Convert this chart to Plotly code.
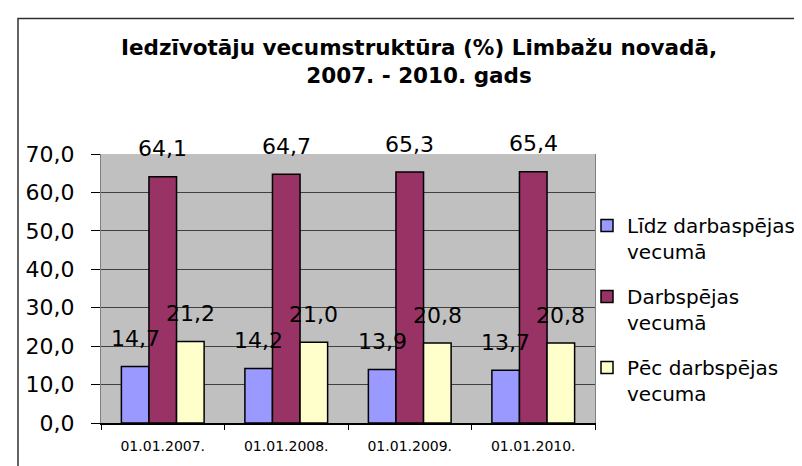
import plotly.graph_objects as go

categories = ["01.01.2007.", "01.01.2008.", "01.01.2009.", "01.01.2010."]
series_names = ["Līdz darbaspējas<br>vecumā", "Darbspējas<br>vecumā", "Pēc darbspējas<br>vecuma"]
lidz_darbaspejas = [14.7, 14.2, 13.9, 13.7]
darbspejas = [64.1, 64.7, 65.3, 65.4]
pec_darbspejas = [21.2, 21.0, 20.8, 20.8]
colors = ["#9999FF", "#993366", "#FFFFCC"]
y_ticks = [0, 10, 20, 30, 40, 50, 60, 70]

series_values = [lidz_darbaspejas, darbspejas, pec_darbspejas]
FONT = "DejaVu Sans"
BARGAP = 0.33

W, H = 802, 466
ML, MR, MT, MB = 93, 215, 146, 51
PW, PH = W - ML - MR, H - MT - MB

def fmt(v):
    return f"{v:.1f}".replace(".", ",")

fig = go.Figure()
for k, (name, vals, col) in enumerate(zip(series_names, series_values, colors)):
    fig.add_trace(go.Bar(
        x=categories, y=vals, name=name,
        marker=dict(color=col, line=dict(color="black", width=1.5)),
        legendgroup=f"g{k}",
    ))

annotations = []
bw = (1 - BARGAP) / 3
for k, vals in enumerate(series_values):
    for i, v in enumerate(vals):
        annotations.append(dict(
            x=i + (k - 1) * bw, y=v, xref="x", yref="y",
            text=fmt(v), showarrow=False, yanchor="middle", yshift=28,
            font=dict(family=FONT, size=22, color="black"),
        ))

def px2fx(px):
    return (px - ML) / PW

def py2fy(py):
    return (H - MB - py) / PH

shapes = [
    dict(type="rect", xref="paper", yref="paper",
         x0=px2fx(10), x1=px2fx(812), y0=py2fy(480), y1=py2fy(10.5),
         line=dict(color="#303030", width=1.5), fillcolor="rgba(0,0,0,0)", layer="below"),
]

fig.update_layout(
    width=W, height=H,
    margin=dict(l=ML, r=MR, t=MT, b=MB, pad=0, autoexpand=False),
    paper_bgcolor="white", plot_bgcolor="#C0C0C0",
    separators=", ",
    barmode="group", bargap=BARGAP, bargroupgap=0,
    title=dict(
        text="Iedzīvotāju vecumstruktūra (%) Limbažu novadā,<br>2007. - 2010. gads",
        font=dict(family=FONT, size=21.5, color="black", weight="bold"),
        x=411 / W, xref="container", xanchor="center",
        y=1 - 47 / H, yref="container", yanchor="top",
    ),
    xaxis=dict(
        type="category", showline=True, linecolor="black", linewidth=1.5,
        ticks="outside", tickson="boundaries", ticklen=5, tickcolor="black",
        tickfont=dict(family=FONT, size=14, color="black"),
        showgrid=False, ticklabelstandoff=9,
    ),
    yaxis=dict(
        range=[0, 70], tickvals=y_ticks, tickformat=".1f",
        showline=True, linecolor="#808080", linewidth=1, mirror=True,
        ticks="outside", ticklen=9, tickcolor="black",
        tickfont=dict(family=FONT, size=22, color="black"),
        showgrid=True, gridcolor="#404040", gridwidth=1,
        zeroline=False, ticklabelstandoff=12,
    ),
    legend=dict(
        x=px2fx(579), xanchor="left", xref="paper",
        y=py2fy(198), yanchor="top", yref="paper",
        valign="top", tracegroupgap=16,
        font=dict(family=FONT, size=20, color="black"),
        bgcolor="rgba(0,0,0,0)", borderwidth=0,
    ),
    annotations=annotations,
    shapes=shapes,
)

fig.write_html("out.html")
